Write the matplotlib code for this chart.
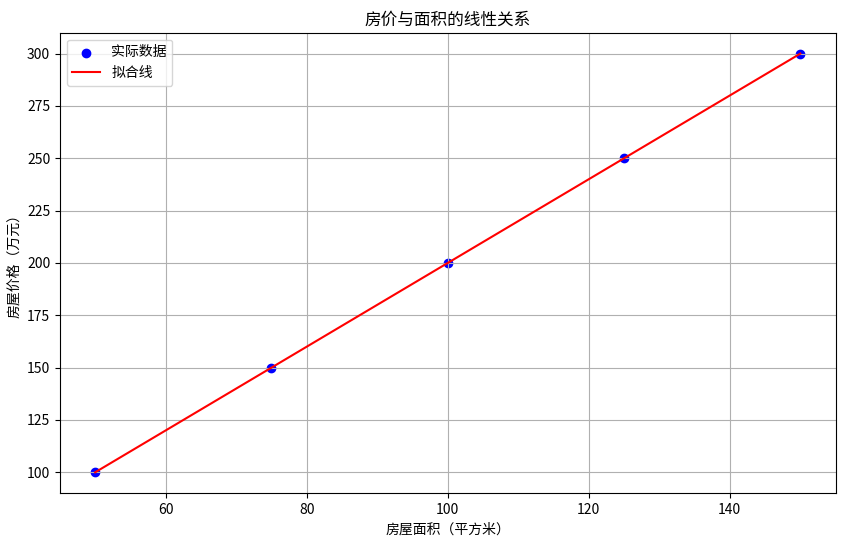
import numpy as np
import matplotlib
matplotlib.use('Agg')
import matplotlib.pyplot as plt

plt.rcParams['font.family'] = ['Noto Sans CJK SC', 'DejaVu Sans']
plt.rcParams['axes.unicode_minus'] = False

area = np.array([50, 75, 100, 125, 150])
price = np.array([100, 150, 200, 250, 300])

k, b = np.polyfit(area, price, 1)
fit = k * area + b

fig, ax = plt.subplots(figsize=(8.44, 5.45), dpi=100)
fig.subplots_adjust(left=0.071, right=0.99, top=0.94, bottom=0.095)

ax.scatter(area, price, color='blue', label='实际数据')
ax.plot(area, fit, color='red', label='拟合线')

ax.set_title('房价与面积的线性关系')
ax.set_xlabel('房屋面积（平方米）')
ax.set_ylabel('房屋价格（万元）')
ax.legend(loc='upper left')
ax.grid(True)

fig.savefig('out.png')
